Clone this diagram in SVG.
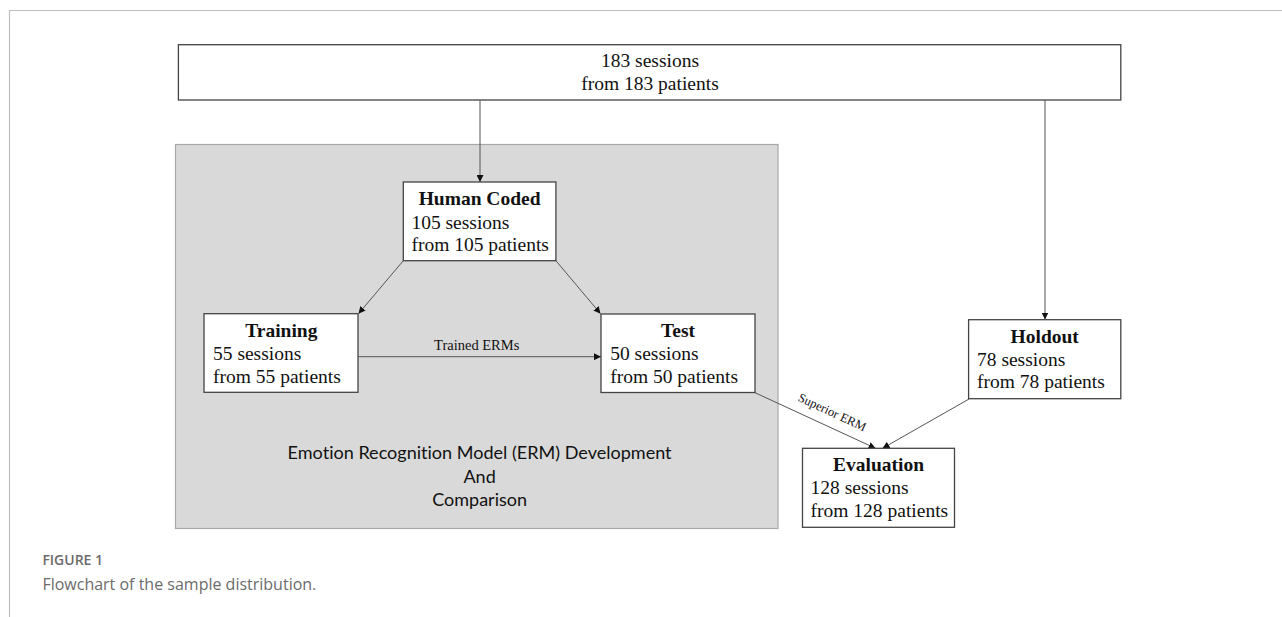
<svg xmlns="http://www.w3.org/2000/svg" width="1282" height="617" viewBox="0 0 1282 617">
<defs>
<style>
.box{fill:#fff;stroke:#444;stroke-width:1.3}
.t{font-family:"Liberation Serif","Times New Roman",serif;font-size:19.5px;fill:#111}
.b{font-weight:bold;text-anchor:middle}
.c{stroke:#555;stroke-width:1;fill:none}
.lbl{font-family:"Liberation Serif","Times New Roman",serif;fill:#111}
.sans{font-family:Lato,"Open Sans",sans-serif;font-size:18px;fill:#111;text-anchor:middle;font-variant-ligatures:none;font-feature-settings:"liga" 0,"clig" 0}
.cap{font-family:"Open Sans","Noto Sans",sans-serif;fill:#6b6b6b}
</style>
<marker id="ah" viewBox="0 0 10 10" refX="10" refY="5" markerWidth="7" markerHeight="7" markerUnits="userSpaceOnUse" orient="auto">
<path d="M0,0 L10,5 L0,10 z" fill="#111"/>
</marker>
</defs>
<rect width="1282" height="617" fill="#fff"/>
<g id="frame">
<path d="M9.5,617 V10.5 H1282" fill="none" stroke="#bdbdbd" stroke-width="1.2"/>
</g>
<g id="erm-region">
<rect x="175.5" y="144.5" width="602.5" height="384" fill="#d9d9d9" stroke="#a8a8a8" stroke-width="1.2"/>
<text class="sans" x="479.6" y="459.3" textLength="384" lengthAdjust="spacingAndGlyphs">Emotion Recognition Model (ERM) Development</text>
<text class="sans" x="479.6" y="482.7">And</text>
<text class="sans" x="479.6" y="505.7">Comparison</text>
</g>
<g id="connectors">
<line class="c" x1="480" y1="100" x2="480" y2="182" marker-end="url(#ah)"/>
<line class="c" x1="1045" y1="100" x2="1045" y2="319.5" marker-end="url(#ah)"/>
<line class="c" x1="403.3" y1="260.7" x2="358.5" y2="313.7" marker-end="url(#ah)"/>
<line class="c" x1="555.9" y1="260.7" x2="600.5" y2="313.7" marker-end="url(#ah)"/>
<line class="c" x1="358" y1="356.7" x2="601" y2="356.7" marker-end="url(#ah)"/>
<line class="c" x1="755" y1="392.7" x2="875.5" y2="448.3" marker-end="url(#ah)"/>
<line class="c" x1="969" y1="399" x2="882.5" y2="448.3" marker-end="url(#ah)"/>
<text class="lbl" x="476.7" y="350" font-size="14.5" text-anchor="middle">Trained ERMs</text>
<text class="lbl" x="0" y="0" font-size="12.5" text-anchor="middle" transform="translate(830.5,416) rotate(25)">Superior ERM</text>
</g>
<g id="all-sessions">
<rect class="box" x="178.4" y="44.7" width="942.4" height="55.3"/>
<text class="t" x="650" y="67" text-anchor="middle">183 sessions</text>
<text class="t" x="650" y="90" text-anchor="middle">from 183 patients</text>
</g>
<g id="human-coded">
<rect class="box" x="403.3" y="182" width="152.6" height="78.7"/>
<text class="t b" x="479.6" y="205.3">Human Coded</text>
<text class="t" x="411.4" y="229">105 sessions</text>
<text class="t" x="411.4" y="251">from 105 patients</text>
</g>
<g id="training">
<rect class="box" x="204" y="313.7" width="154" height="78.6"/>
<text class="t b" x="281.3" y="336.7">Training</text>
<text class="t" x="213" y="360">55 sessions</text>
<text class="t" x="213" y="382.7">from 55 patients</text>
</g>
<g id="test">
<rect class="box" x="601" y="314" width="154" height="78.5"/>
<text class="t b" x="678" y="337.3">Test</text>
<text class="t" x="610.2" y="360">50 sessions</text>
<text class="t" x="610.2" y="382.7">from 50 patients</text>
</g>
<g id="holdout">
<rect class="box" x="968.6" y="319.7" width="152.2" height="79"/>
<text class="t b" x="1044.7" y="342.7">Holdout</text>
<text class="t" x="977" y="365.7">78 sessions</text>
<text class="t" x="977" y="388.3">from 78 patients</text>
</g>
<g id="evaluation">
<rect class="box" x="802.5" y="448.3" width="152" height="79"/>
<text class="t b" x="878.5" y="471">Evaluation</text>
<text class="t" x="810.6" y="494.3">128 sessions</text>
<text class="t" x="810.6" y="516.7">from 128 patients</text>
</g>
<g id="caption">
<text class="cap" x="42.4" y="565" font-size="14" font-weight="600">FIGURE 1</text>
<text class="cap" x="42.4" y="590" font-size="16">Flowchart of the sample distribution.</text>
</g>
</svg>
